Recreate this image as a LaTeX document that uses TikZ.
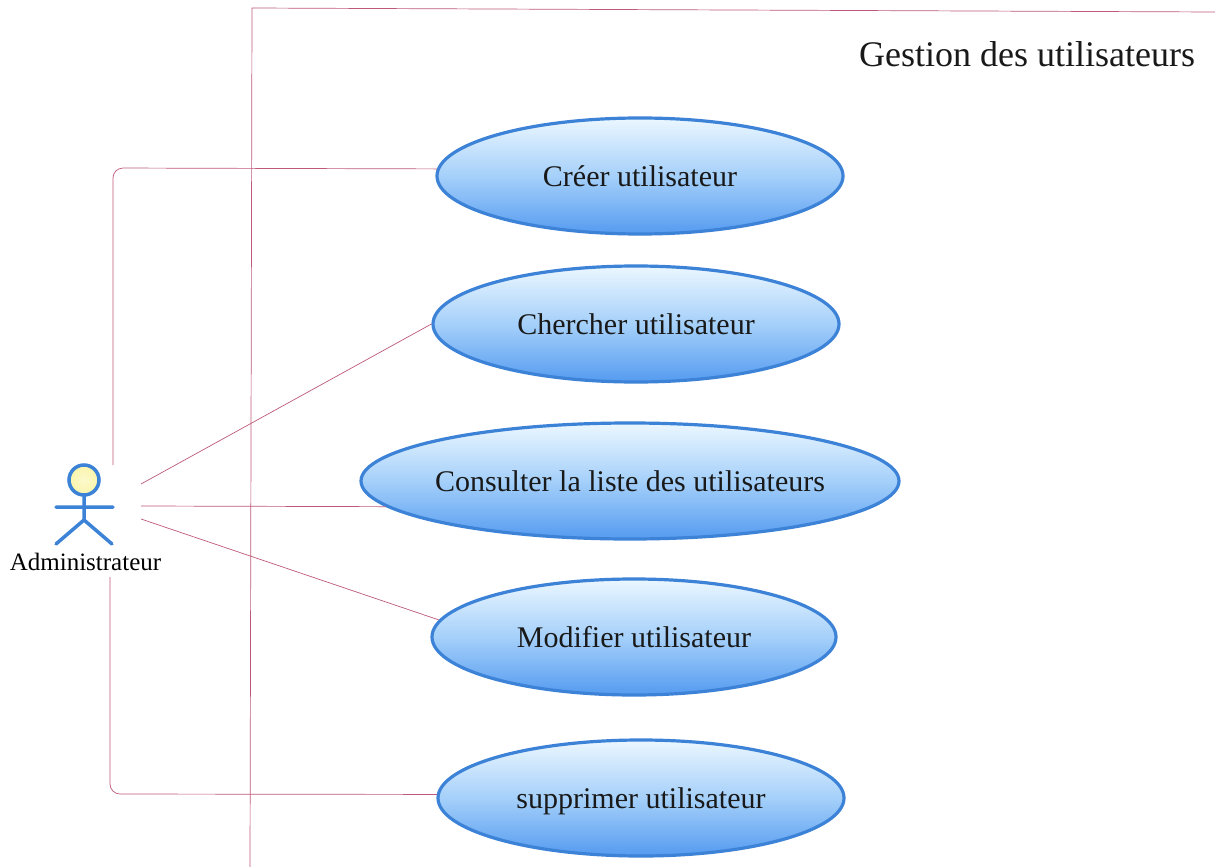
\documentclass[tikz,border=0pt]{standalone}
\usepackage{fontspec}
\setmainfont{Liberation Serif}
\usetikzlibrary{shapes.geometric}
\definecolor{linecol}{RGB}{190,90,120}
\definecolor{ucblue}{RGB}{60,130,215}
\definecolor{ucbot}{RGB}{85,155,240}
\definecolor{ucmid}{RGB}{165,208,250}
\definecolor{uctop}{RGB}{235,247,255}
\definecolor{headfill}{RGB}{250,245,170}
\pgfdeclareverticalshading{ucshade}{100bp}{color(0bp)=(ucbot);color(25bp)=(ucbot);color(50bp)=(ucmid);color(75bp)=(uctop);color(100bp)=(uctop)}
\tikzset{
  usecase/.style={ellipse,draw=ucblue,line width=3.2pt,shading=ucshade,inner sep=0pt,text height=20pt,text depth=0pt,font=\fontsize{30}{34}\selectfont,text=black!90},
  conn/.style={draw=linecol,line width=0.7pt},
  actorline/.style={draw=ucblue,line width=3.5pt,line cap=round},
}
\begin{document}
\begin{tikzpicture}[x=1pt,y=-1pt]
\useasboundingbox (0,0) rectangle (1215,867);
\fill[white] (0,0) rectangle (1215,867);
\coordinate (frameA) at (250,867);
\coordinate (frameB) at (252,8);
\coordinate (frameC) at (1215,12);
\draw[conn] (frameA) -- (frameB) -- (frameC);
\node[font=\fontsize{36}{40}\selectfont,text=black!90] (title) at (1027,54) {Gestion des utilisateurs};
\node[usecase,minimum width=406pt,minimum height=116pt] (uc1) at (640,176) {Créer utilisateur};
\node[usecase,minimum width=406pt,minimum height=116pt] (uc2) at (636,324) {Chercher utilisateur};
\node[usecase,inner xsep=-7.5pt,minimum width=538pt,minimum height=116pt] (uc3) at (630,481) {Consulter la liste des utilisateurs};
\node[usecase,minimum width=404pt,minimum height=116pt] (uc4) at (634,637) {Modifier utilisateur};
\node[usecase,minimum width=406pt,minimum height=116pt] (uc5) at (641,798) {supprimer utilisateur};
% actor
\draw[actorline,inner color=headfill!60!white,outer color=headfill] (84,480) circle (15);
\coordinate (neck) at (84,496);
\coordinate (hip) at (84,520);
\coordinate (armL) at (56,507);
\coordinate (armR) at (113,507);
\coordinate (legL) at (56,544);
\coordinate (legR) at (112,544);
\draw[actorline] (neck) -- (hip) (armL) -- (armR) (legL) -- (hip) -- (legR);
\node[font=\fontsize{25}{28}\selectfont,text=black,inner sep=0pt] (actorlabel) at (85.5,562) {Administrateur};
% connectors
\coordinate (a1) at (113,465);
\coordinate (a2) at (141,484);
\coordinate (a3) at (141,506);
\coordinate (a4) at (141,519);
\coordinate (a5) at (110,577);
\draw[conn,rounded corners=10pt] (a1) -- (113,168) -- (uc1.178.4);
\draw[conn] (a2) -- (uc2.180);
\draw[conn] (a3) -- (uc3.186);
\draw[conn] (a4) -- (uc4.175);
\draw[conn,rounded corners=10pt] (a5) -- (110,794) -- (uc5.179.6);
\end{tikzpicture}
\end{document}
